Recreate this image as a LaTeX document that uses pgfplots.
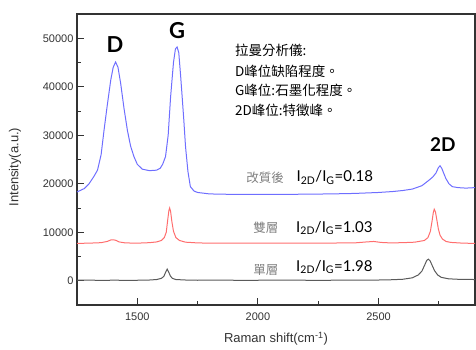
\documentclass[border=0pt]{standalone}
\usepackage{pgfplots}
\pgfplotsset{compat=1.18}
\usepackage{fontspec}
\setmainfont{Liberation Sans}
\newfontfamily\cjk{Noto Sans CJK TC}
\newfontfamily\lato{Lato}
\definecolor{cblue}{HTML}{6E6EFF}
\definecolor{cred}{HTML}{FF6E6E}
\definecolor{cgray}{HTML}{5A5A5A}
\definecolor{axc}{HTML}{333333}
\definecolor{lblc}{HTML}{808080}
\begin{document}
\begin{tikzpicture}
\begin{axis}[
  name=ax,
  width=398pt, height=291pt, scale only axis,
  xmin=1250, xmax=2900, ymin=-5000, ymax=55000,
  xtick={1500,2000,2500}, minor xtick={1750,2250,2750},
  ytick={0,10000,20000,30000,40000,50000},
  minor ytick={5000,15000,25000,35000,45000},
  scaled y ticks=false, scaled x ticks=false,
  yticklabel style={/pgf/number format/.cd, set thousands separator={}, fixed},
  xticklabel style={yshift=-4pt, /pgf/number format/.cd, set thousands separator={}, fixed},
  /pgf/number format/assume math mode=true,
  tick label style={font=\fontsize{11}{13}\selectfont, text=axc},
  tick align=inside, xtick pos=bottom, ytick pos=left,
  major tick length=7pt, minor tick length=4pt,
  every tick/.style={axc, line width=0.9pt},
  axis line style={axc, line width=1.2pt},
  xlabel={Raman shift(cm\textsuperscript{-1})},
  ylabel={Intensity(a.u.)},
  label style={font=\fontsize{13}{15}\selectfont, text=axc},
  xlabel style={at={(axis description cs:0.5,-0.117)}, anchor=center},
  ylabel style={at={(axis description cs:-0.156,0.474)}, anchor=center},
  clip=false,
]
% blue (modified)
\addplot[cblue, line width=1pt] coordinates {
(1250,18300)(1280,19000)(1300,20000)(1320,21500)(1335,22800)(1350,26000)
(1362,31000)(1375,36000)(1390,41400)(1400,44000)(1410,45100)(1420,44000)
(1431,40700)(1445,35500)(1459,31000)(1472,27800)(1486,25600)(1500,24000)
(1521,23000)(1550,22700)(1580,22800)(1595,23200)(1605,24000)(1617,25600)
(1628,30000)(1638,37900)(1650,45000)(1658,47800)(1665,48200)(1672,47000)
(1680,42000)(1686,37900)(1693,33000)(1700,27600)(1710,22500)(1720,19400)
(1735,18500)(1750,18200)(1800,17900)(1900,17800)(2000,17800)(2100,17800)
(2200,17850)(2300,17900)(2400,18000)(2500,18200)(2560,18400)(2600,18600)
(2640,18900)(2680,19600)(2711,20800)(2725,21400)(2738,22200)(2748,23300)
(2755,23700)(2762,23200)(2770,22200)(2779,21100)(2792,20000)(2806,19400)
(2830,19200)(2862,19100)(2900,19200)
};
% red (bilayer)
\addplot[cred, line width=1pt] coordinates {
(1250,7700)(1300,7750)(1350,7850)(1375,8100)(1390,8400)(1400,8450)(1410,8350)
(1425,8000)(1450,7800)(1500,7750)(1550,7850)(1580,8000)(1600,8300)(1612,8900)
(1620,10000)(1626,12500)(1631,14500)(1634,15000)(1638,14300)(1643,12300)
(1650,10200)(1660,8900)(1675,8300)(1700,7950)(1750,7800)(1800,7750)(2000,7750)
(2200,7750)(2400,7800)(2450,8000)(2480,8100)(2510,7900)(2550,7800)(2600,7850)
(2650,7950)(2690,8300)(2705,8900)(2715,10200)(2722,12300)(2727,14000)
(2731,14750)(2736,14200)(2742,12500)(2748,10700)(2755,9400)(2765,8600)
(2780,8100)(2800,7900)(2850,7750)(2900,7700)
};
% gray (monolayer)
\addplot[cgray, line width=1pt] coordinates {
(1250,100)(1300,150)(1350,50)(1400,120)(1450,80)(1500,100)(1550,150)(1580,250)
(1600,500)(1610,900)(1617,1700)(1624,2400)(1630,1800)(1637,1000)(1645,500)
(1660,250)(1700,150)(1750,100)(1800,150)(1900,100)(2000,100)(2100,150)
(2200,100)(2300,100)(2400,150)(2500,150)(2550,200)(2600,300)(2640,600)
(2665,1200)(2680,2000)(2692,3300)(2700,4200)(2707,4450)(2714,4100)(2722,3200)
(2732,2100)(2745,1200)(2760,700)(2790,400)(2830,300)(2900,250)
};
% peak labels
\node[font=\lato\bfseries\fontsize{22}{24}\selectfont] at (axis cs:1407,48800) {D};
\node[font=\lato\bfseries\fontsize{22}{24}\selectfont] at (axis cs:1665,51500) {G};
\node[font=\lato\bfseries\fontsize{19}{21}\selectfont] at (axis cs:2767,28000) {2D};
% description
\node[anchor=west, font=\cjk\fontsize{13.5}{15}\selectfont, inner sep=0pt] at (axis cs:1905,47600) {拉曼分析儀:};
\node[anchor=west, font=\cjk\fontsize{13.5}{15}\selectfont, inner sep=0pt] at (axis cs:1905,43250) {D峰位缺陷程度。};
\node[anchor=west, font=\cjk\fontsize{13.5}{15}\selectfont, inner sep=0pt] at (axis cs:1905,39330) {G峰位:石墨化程度。};
\node[anchor=west, font=\cjk\fontsize{13.5}{15}\selectfont, inner sep=0pt] at (axis cs:1905,35200) {2D峰位:特徵峰。};
% ratio labels
\node[anchor=west, font=\cjk\fontsize{12.5}{14}\selectfont, text=lblc, inner sep=0pt] at (axis cs:1951,21300) {改質後};
\node[anchor=west, font=\lato\fontsize{15}{17}\selectfont, inner sep=0pt] at (axis cs:2160,21300) {I\textsubscript{2D}/I\textsubscript{G}=0.18};
\node[anchor=west, font=\cjk\fontsize{12.5}{14}\selectfont, text=lblc, inner sep=0pt] at (axis cs:1980,10880) {雙層};
\node[anchor=west, font=\lato\fontsize{15}{17}\selectfont, inner sep=0pt] at (axis cs:2158,10880) {I\textsubscript{2D}/I\textsubscript{G}=1.03};
\node[anchor=west, font=\cjk\fontsize{12.5}{14}\selectfont, text=lblc, inner sep=0pt] at (axis cs:1980,2216) {單層};
\node[anchor=west, font=\lato\fontsize{15}{17}\selectfont, inner sep=0pt] at (axis cs:2158,2835) {I\textsubscript{2D}/I\textsubscript{G}=1.98};
\end{axis}
\pgfresetboundingbox
\useasboundingbox ([xshift=-77pt,yshift=-45pt]ax.south west) rectangle ([xshift=1pt,yshift=14pt]ax.north east);
\end{tikzpicture}
\end{document}
